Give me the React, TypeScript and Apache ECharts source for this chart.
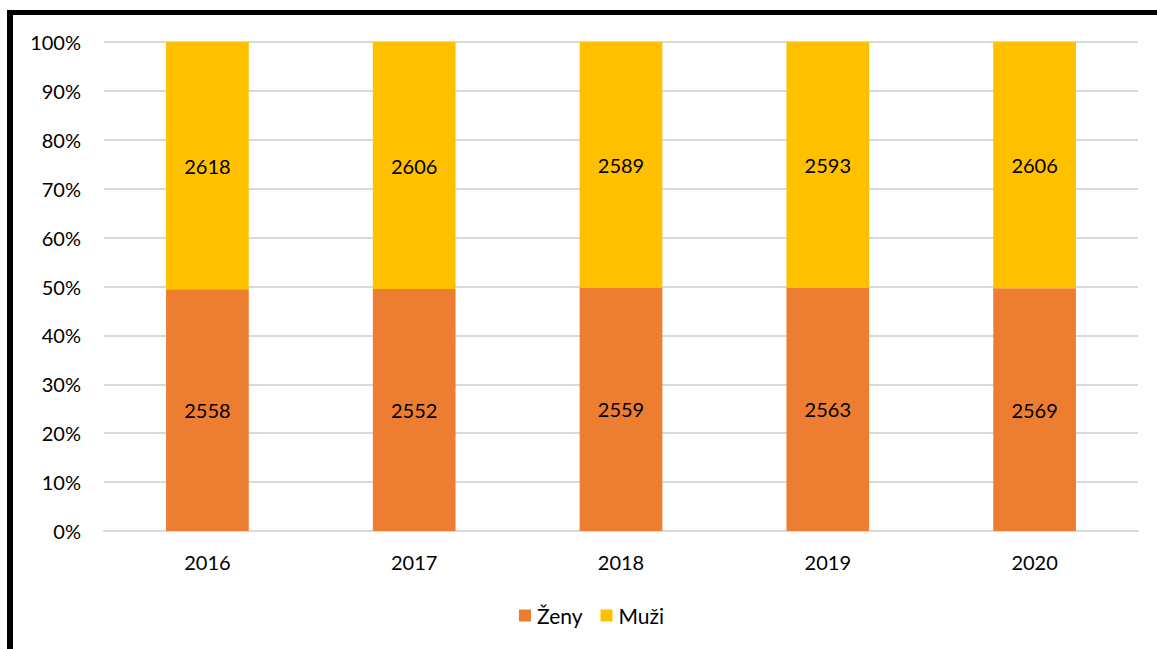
import React, { useEffect, useRef } from "react";
import * as echarts from "echarts";

const categories = ["2016", "2017", "2018", "2019", "2020"];
const zeny = [2558, 2552, 2559, 2563, 2569];
const muzi = [2618, 2606, 2589, 2593, 2606];
const yTicks = [0, 10, 20, 30, 40, 50, 60, 70, 80, 90, 100];

const FONT = "Lato, 'Open Sans', sans-serif";
const FS = 20;

export default function App() {
  const ref = useRef<HTMLDivElement>(null);
  useEffect(() => {
    if (!ref.current) return;
    const chart = echarts.init(ref.current, undefined, { renderer: "svg" });
    const totals = zeny.map((z, i) => z + muzi[i]);
    const zPct = zeny.map((v, i) => ({ value: (v / totals[i]) * 100, raw: v }));
    const mPct = muzi.map((v, i) => ({ value: (v / totals[i]) * 100, raw: v }));
    const labelCfg = {
      show: true,
      position: "inside",
      color: "#000",
      fontSize: FS,
      fontFamily: FONT,
      formatter: (p: any) => String(p.data.raw),
    };
    chart.setOption({
      animation: false,
      backgroundColor: "#fff",
      textStyle: { fontFamily: FONT },
      graphic: [
        { type: "rect", shape: { x: 7, y: 10, width: 1150, height: 5 }, style: { fill: "#000" } },
        { type: "rect", shape: { x: 7, y: 10, width: 6, height: 639 }, style: { fill: "#000" } },
      ],
      grid: { left: 104, right: 19, top: 42, bottom: 118, containLabel: false },
      legend: {
        data: ["Ženy", "Muži"],
        left: 519,
        top: 605,
        itemWidth: 12,
        itemHeight: 12,
        itemGap: 18,
        icon: "rect",
        padding: 0,
        textStyle: { fontSize: 21, color: "#000", fontFamily: FONT, padding: [0, 0, 0, 1] },
      },
      xAxis: {
        type: "category",
        data: categories,
        axisLine: { lineStyle: { color: "#d9d9d9", width: 2 } },
        axisTick: { show: false },
        axisLabel: { color: "#000", fontSize: FS, margin: 21, fontFamily: FONT },
      },
      yAxis: {
        type: "value",
        min: yTicks[0],
        max: yTicks[yTicks.length - 1],
        interval: 10,
        axisLine: { show: false },
        axisTick: { show: false },
        splitLine: { lineStyle: { color: "#d9d9d9", width: 2 } },
        axisLabel: { color: "#000", fontSize: FS, margin: 23, fontFamily: FONT, formatter: "{value}%" },
      },
      series: [
        {
          name: "Ženy",
          type: "bar",
          stack: "total",
          data: zPct,
          barWidth: "40%",
          itemStyle: { color: "#ED7D31" },
          label: labelCfg,
        },
        {
          name: "Muži",
          type: "bar",
          stack: "total",
          data: mPct,
          barWidth: "40%",
          itemStyle: { color: "#FFC000" },
          label: labelCfg,
        },
      ],
    });
    return () => chart.dispose();
  }, []);
  return (
    <div
      ref={ref}
      style={{ position: "fixed", left: 0, top: 0, width: 1157, height: 649 }}
    />
  );
}
